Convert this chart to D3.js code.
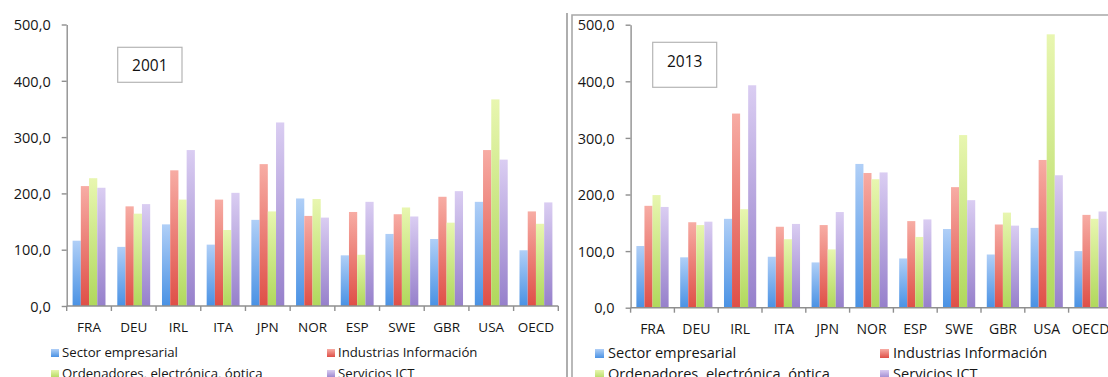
<!DOCTYPE html>
<html>
<head>
<meta charset="utf-8">
<script src="https://cdn.jsdelivr.net/npm/d3@7/dist/d3.min.js"></script>
<style>
  html, body { margin: 0; padding: 0; background: #fff; }
  svg { display: block; font-family: "Open Sans", "Noto Sans", sans-serif; }
</style>
</head>
<body>
<svg id="chart" width="1108" height="377"></svg>
<script>
// Countries on the category axis
const countries = ["FRA", "DEU", "IRL", "ITA", "JPN", "NOR", "ESP", "SWE", "GBR", "USA", "OECD"];

// Series names (legend order)
const seriesNames = ["Sector empresarial", "Industrias Información", "Ordenadores, electrónica, óptica", "Servicios ICT"];

// 2001 values per series
const sector2001      = [116, 105, 145, 109, 153, 191, 90, 128, 119, 185, 99];
const industrias2001  = [213, 177, 241, 189, 252, 160, 167, 163, 194, 277, 168];
const ordenadores2001 = [227, 164, 189, 135, 168, 190, 91, 175, 148, 367, 146];
const servicios2001   = [210, 181, 277, 201, 326, 157, 185, 159, 204, 260, 184];

// 2013 values per series
const sector2013      = [109, 89, 157, 90, 80, 254, 87, 139, 94, 141, 100];
const industrias2013  = [180, 151, 343, 143, 146, 238, 153, 213, 147, 261, 164];
const ordenadores2013 = [199, 146, 174, 121, 103, 227, 125, 305, 168, 483, 157];
const servicios2013   = [178, 152, 393, 148, 169, 239, 156, 190, 145, 234, 170];

// Value axis ticks
const yTicks = [0, 100, 200, 300, 400, 500];

const esLocale = d3.formatLocale({ decimal: ",", thousands: ".", grouping: [3], currency: ["", " €"] });
const fmt = esLocale.format(".1f");

const svg = d3.select("#chart");
svg.append("rect").attr("width", 1108).attr("height", 377).attr("fill", "#fff");

// Vertical gradients for the bars and legend swatches
const palette = [
  { top: "#b0cff7", bottom: "#4a92e4" },
  { top: "#f7aca4", bottom: "#df4f47" },
  { top: "#e8f6b0", bottom: "#b0d85c" },
  { top: "#dacdf2", bottom: "#9680cb" }
];
const defs = svg.append("defs");
palette.forEach((c, i) => {
  const g = defs.append("linearGradient")
    .attr("id", "grad" + i)
    .attr("x1", 0).attr("y1", 0).attr("x2", 0).attr("y2", 1);
  g.append("stop").attr("offset", "0%").attr("stop-color", c.top);
  g.append("stop").attr("offset", "100%").attr("stop-color", c.bottom);
});

const axisColor = "#8f8f8f";
const textColor = "#161616";

function drawPanel(opt) {
  const series = opt.series;
  const g = svg.append("g");

  const x = d3.scaleBand().domain(countries).range(opt.xRange);
  const inset = x.step() * 0.132;
  const x1 = d3.scaleBand().domain(d3.range(series.length)).range([inset, x.step() - inset]);
  const y = d3.scaleLinear().domain([0, 500]).range(opt.yRange);

  // Bars
  const groups = g.selectAll("g.country")
    .data(countries)
    .join("g")
    .attr("class", "country")
    .attr("transform", d => `translate(${x(d)},0)`);

  groups.selectAll("rect")
    .data((d, ci) => series.map((s, si) => ({ si, v: s[ci] })))
    .join("rect")
    .attr("x", d => x1(d.si))
    .attr("width", x1.bandwidth())
    .attr("y", d => y(d.v))
    .attr("height", d => y(0) - y(d.v))
    .attr("fill", d => `url(#grad${d.si})`);

  // Value axis
  const yAxis = d3.axisLeft(y)
    .tickValues(yTicks)
    .tickSize(5)
    .tickSizeOuter(0)
    .tickPadding(11)
    .tickFormat(fmt);
  const ya = g.append("g")
    .attr("transform", `translate(${opt.xRange[0]},0)`)
    .call(yAxis);
  ya.select(".domain").attr("stroke", axisColor).attr("stroke-width", 1.4);
  ya.selectAll(".tick line").attr("stroke", axisColor).attr("stroke-width", 1.4);
  ya.selectAll(".tick text")
    .attr("fill", textColor)
    .style("font-size", opt.tickFont + "px")
    .style("font-family", "'Open Sans', sans-serif")
    .attr("dy", "0.36em");

  // Category axis: baseline, boundary ticks, centered labels
  const y0 = y(0);
  g.append("line")
    .attr("x1", opt.xRange[0]).attr("x2", opt.xRange[1])
    .attr("y1", y0).attr("y2", y0)
    .attr("stroke", axisColor).attr("stroke-width", 1.4);
  const bounds = countries.map(c => x(c)).concat([x(countries[countries.length - 1]) + x.step()]);
  g.selectAll("line.xtick")
    .data(bounds)
    .join("line")
    .attr("class", "xtick")
    .attr("x1", d => d).attr("x2", d => d)
    .attr("y1", y0).attr("y2", y0 + 5)
    .attr("stroke", axisColor).attr("stroke-width", 1.4);
  g.selectAll("text.xlabel")
    .data(countries)
    .join("text")
    .attr("class", "xlabel")
    .attr("x", d => x(d) + x.step() / 2)
    .attr("y", y0 + opt.labelOffset)
    .attr("text-anchor", "middle")
    .attr("fill", textColor)
    .style("font-size", opt.catFont + "px")
    .text(d => d);

  // Year box
  const b = opt.box;
  g.append("rect")
    .attr("x", b.x).attr("y", b.y).attr("width", b.w).attr("height", b.h)
    .attr("fill", "#fff").attr("stroke", "#b5b5b5").attr("stroke-width", 1.2);
  g.append("text")
    .attr("x", b.x + b.w / 2).attr("y", b.baseline)
    .attr("text-anchor", "middle")
    .attr("fill", "#111")
    .style("font-size", "15.5px")
    .text(opt.year);

  // Legend: two columns, two rows
  const lg = g.selectAll("g.legend")
    .data(seriesNames)
    .join("g")
    .attr("class", "legend")
    .attr("transform", (d, i) => `translate(${opt.legend.cols[i % 2]},${opt.legend.rows[Math.floor(i / 2)]})`);
  lg.append("rect")
    .attr("x", 0).attr("y", -opt.legend.sw + 1)
    .attr("width", opt.legend.sw).attr("height", opt.legend.sw)
    .attr("fill", (d, i) => `url(#grad${i})`);
  lg.append("text")
    .attr("x", opt.legend.sw + opt.legend.gap)
    .attr("y", 1)
    .attr("fill", textColor)
    .style("font-size", opt.legend.font + "px")
    .text(d => d);
}

drawPanel({
  year: "2001",
  series: [sector2001, industrias2001, ordenadores2001, servicios2001],
  xRange: [66.7, 558.3],
  yRange: [306, 24.5],
  tickFont: 14.5,
  catFont: 13.5,
  labelOffset: 26,
  box: { x: 117.7, y: 47.3, w: 64.3, h: 35, baseline: 70.5 },
  legend: { cols: [51, 327], rows: [356, 377], sw: 8, gap: 3, font: 13.2 }
});

drawPanel({
  year: "2013",
  series: [sector2013, industrias2013, ordenadores2013, servicios2013],
  xRange: [630.6, 1112.4],
  yRange: [307.7, 24.7],
  tickFont: 14.5,
  catFont: 14,
  labelOffset: 26,
  box: { x: 652.7, y: 42.3, w: 64, h: 45, baseline: 67 },
  legend: { cols: [595, 880], rows: [357, 378], sw: 9, gap: 4, font: 14.6 }
});

// Panel frames
svg.append("line")
  .attr("x1", 567).attr("x2", 567).attr("y1", 13).attr("y2", 377)
  .attr("stroke", "#9a9a9a").attr("stroke-width", 1.6);
svg.append("path")
  .attr("d", "M572,377V15H1108")
  .attr("fill", "none")
  .attr("stroke", "#a8a8a8").attr("stroke-width", 1.6);
</script>
</body>
</html>
